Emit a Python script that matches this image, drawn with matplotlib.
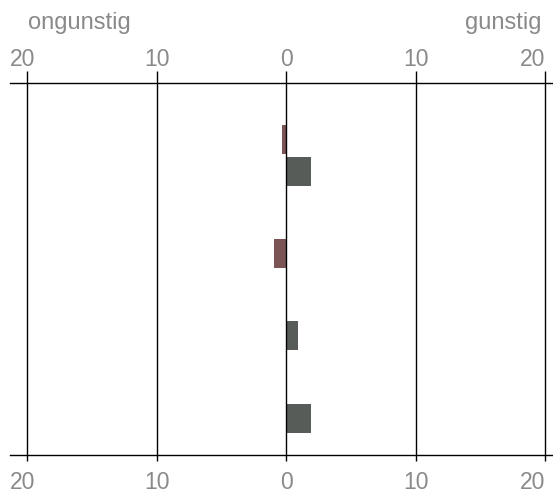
import numpy as np
import matplotlib
matplotlib.use("Agg")
import matplotlib.pyplot as plt
import matplotlib.transforms as mtransforms

# Data
rijen = ["1", "2", "3", "4"]
vorige = [-0.35, 0.0, 0.0, 0.0]     # extra balk boven rij 1
huidige = [1.9, -0.95, 0.9, 1.9]
ticks = [-20, -10, 0, 10, 20]
tick_labels = ["20", "10", "0", "10", "20"]

grijs = "#575c59"
rood = "#7b5456"
tekst = "#8a8a8a"

plt.rcParams["font.family"] = ["Liberation Sans", "DejaVu Sans"]

W, H = 553, 493
fig = plt.figure(figsize=(W / 100, H / 100), dpi=100)
ax = fig.add_axes([10 / W, 1 - 455 / H, 543 / W, (455 - 83) / H])

pos = np.arange(len(rijen))
kleur = lambda v: grijs if v >= 0 else rood
ax.barh(pos, huidige, height=0.353, color=[kleur(v) for v in huidige], zorder=1)
ax.barh(pos - 0.395, vorige, height=0.353, color=[kleur(v) for v in vorige], zorder=1)

ax.set_xlim(-21.34, 20.62)
ax.set_ylim(3.449, -1.077)

for x in ticks:
    ax.axvline(x, color="black", lw=1.0, zorder=3)

for s in ["left", "right"]:
    ax.spines[s].set_visible(False)
for s in ["top", "bottom"]:
    ax.spines[s].set_linewidth(1.0)

# onderste as
ax.set_yticks([])
ax.set_xticks(ticks)
ax.set_xticklabels(tick_labels)
ax.tick_params(axis="x", bottom=True, top=False, labelsize=16.5, labelcolor=tekst,
               width=1.0, length=4.3, pad=7, direction="out")

# bovenste as
ax2 = ax.twiny()
ax2.set_xlim(ax.get_xlim())
ax2.set_xticks(ticks)
ax2.set_xticklabels(tick_labels)
for s in ax2.spines.values():
    s.set_visible(False)
ax2.tick_params(axis="x", top=True, bottom=False, labeltop=True, labelbottom=False,
                labelsize=16.5, labelcolor=tekst, width=1.0, length=8.6, pad=0,
                direction="out")

# labels aan de randen
shift_l = mtransforms.ScaledTranslation(-5 / 100, 0, fig.dpi_scale_trans)
for a in [ax, ax2]:
    labs = a.get_xticklabels()
    labs[0].set_transform(labs[0].get_transform() + shift_l)
    labs[-1].set_horizontalalignment("right")

fig.text(28 / W, 1 - 29 / H, "ongunstig", fontsize=17, color=tekst, ha="left", va="baseline")
fig.text(542 / W, 1 - 29 / H, "gunstig", fontsize=17, color=tekst, ha="right", va="baseline")

fig.savefig("out.png", dpi=100)
